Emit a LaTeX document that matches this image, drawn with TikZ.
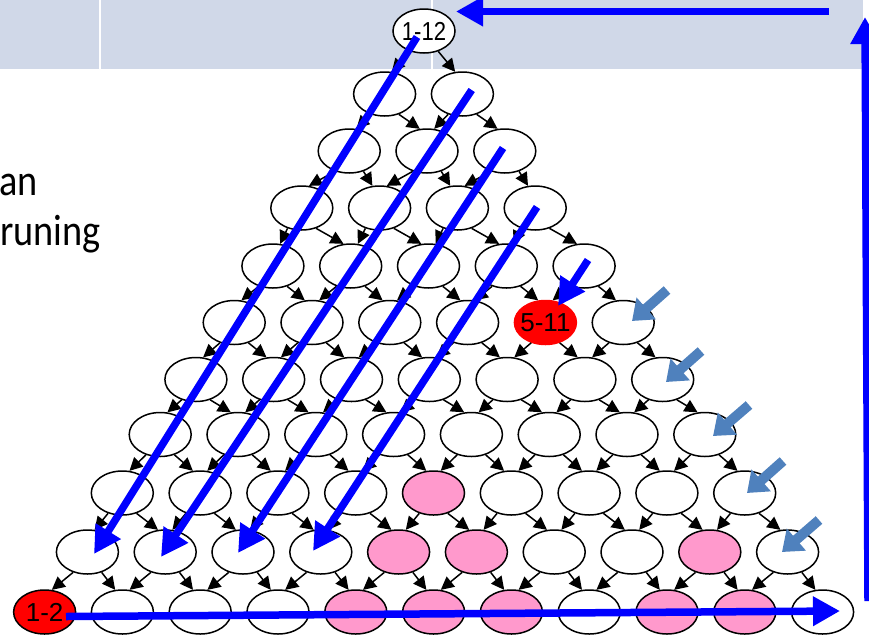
\documentclass[tikz,border=0pt]{standalone}
\usepackage{fontspec}
\usepackage{graphicx}
\setmainfont{Liberation Sans}
\newfontfamily\calfont{Carlito}
\usetikzlibrary{shapes.geometric,arrows.meta}
\definecolor{bandcol}{HTML}{D0D8E8}
\definecolor{pinkc}{HTML}{FF99CC}
\definecolor{steelc}{HTML}{4F81BD}
\definecolor{bluec}{HTML}{0000FF}
\expandafter\def\csname lab1-1\endcsname{\scalebox{0.85}[1]{1-12}}
\expandafter\def\csname lab6-5\endcsname{5-11}
\expandafter\def\csname lab11-1\endcsname{1-2}
\begin{document}
\begin{tikzpicture}[x=1pt,y=-1pt,
  nd/.style={ellipse, draw=black, line width=1.5pt, fill=white, minimum width=62pt, minimum height=44pt, inner sep=0pt, font=\fontsize{26}{26}\selectfont},
  conn/.style={draw=black, line width=1.5pt, -{Triangle[length=13pt,width=13pt]}},
  bigarr/.style={draw=bluec, line width=7.5pt, -{Triangle[length=27pt,width=28pt]}},
  smallarr/.style={draw=steelc, line width=10pt, -{Triangle[length=19pt,width=28pt]}},
  sidetext/.style={anchor=base west, inner sep=0pt, font=\calfont\fontsize{44}{44}\selectfont},
  f-9-5/.style={fill=pinkc}, f-10-5/.style={fill=pinkc}, f-10-6/.style={fill=pinkc},
  f-10-9/.style={fill=pinkc}, f-11-5/.style={fill=pinkc}, f-11-6/.style={fill=pinkc},
  f-11-7/.style={fill=pinkc}, f-11-9/.style={fill=pinkc}, f-11-10/.style={fill=pinkc},
  f-6-5/.style={fill=red, draw=red}, f-11-1/.style={fill=red}]
\useasboundingbox (0,0) rectangle (869,635);
% header band
\fill[bandcol] (0,0) rectangle (863,69);
\draw[white, line width=2.5pt] (100,0) -- (100,69);
\draw[white, line width=2.5pt] (432,0) -- (432,69);
% side text
\node[sidetext] (t1) at (-1,195) {\scalebox{0.87}[1]{an}};
\node[sidetext] (t2) at (0,245) {\scalebox{0.87}[1]{runing}};
% lattice of nodes
\foreach \r/\cx/\cy in {1/424/31, 2/423.5/94, 3/427/151, 4/418.5/208, 5/428.5/266,
  6/428.7/322.5, 7/429.3/379.5, 8/432.5/434.5, 9/433.5/493, 10/437.5/552, 11/433.6/612}{
  \foreach \i in {1,...,\r}{
    \pgfmathsetmacro\xx{\cx+(\i-(\r+1)/2)*77.8}
    \node[nd, f-\r-\i/.try] (n-\r-\i) at (\xx,\cy)
      {\ifcsname lab\r-\i\endcsname\makebox[0pt][c]{\csname lab\r-\i\endcsname}\fi};
  }
}
% black connectors
\foreach \r in {1,...,10}{
  \pgfmathtruncatemacro\rn{\r+1}
  \foreach \i in {1,...,\r}{
    \pgfmathtruncatemacro\ip{\i+1}
    \draw[conn] (n-\r-\i.-125) -- (n-\rn-\i.72);
    \draw[conn] (n-\r-\i.-55) -- (n-\rn-\ip.108);
  }
}
% steel blue arrows
\coordinate (s1a) at (667,290); \coordinate (s1b) at (632,321);
\coordinate (s2a) at (701,351);     \coordinate (s2b) at (666,382);
\coordinate (s3a) at (749,405);   \coordinate (s3b) at (713,436);
\coordinate (s4a) at (783,461);   \coordinate (s4b) at (747,493);
\coordinate (s5a) at (819,520);   \coordinate (s5b) at (782,552);
\foreach \k in {1,...,5}{ \draw[smallarr] (s\k a) -- (s\k b); }
% blue arrows
\coordinate (ta) at (829,11.5);  \coordinate (tb) at (456,11.5);
\coordinate (va) at (868,601);   \coordinate (vb) at (865,17);
\coordinate (ha) at (66,616.5);  \coordinate (hb) at (840,611);
\coordinate (da1) at (417,37);   \coordinate (db1) at (94,554);
\coordinate (da2) at (471.7,90); \coordinate (db2) at (161,557);
\coordinate (da3) at (503,148);  \coordinate (db3) at (238,553);
\coordinate (da4) at (537,207);  \coordinate (db4) at (313,551);
\coordinate (da5) at (588,260);  \coordinate (db5) at (558,306);
\draw[bigarr] (ta) -- (tb);
\draw[bigarr] (va) -- (vb);
\draw[bigarr] (ha) -- (hb);
\foreach \k in {1,...,5}{ \draw[bigarr] (da\k) -- (db\k); }
\end{tikzpicture}
\end{document}
